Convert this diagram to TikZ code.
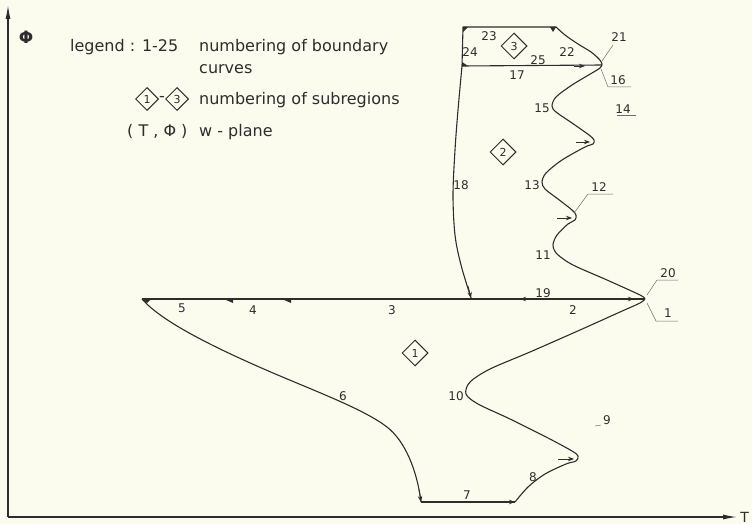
\documentclass[tikz,border=0pt]{standalone}
\usepackage{fontspec}
\setmainfont{DejaVu Sans}
\usetikzlibrary{arrows.meta,shapes.geometric}
\definecolor{paper}{RGB}{252,252,238}
\definecolor{ink}{RGB}{45,45,45}
\tikzset{
  bnd/.style={draw=ink, line width=1.1pt, line join=round},
  axisline/.style={draw=ink, line width=1.2pt, -{Latex[length=14pt,width=5pt]}},
  num/.style={font=\fontsize{12}{12}\selectfont, text=ink, inner sep=0pt},
  legtext/.style={font=\fontsize{16}{16}\selectfont, text=ink, inner sep=0pt, anchor=base west},
  lead/.style={draw=ink!70, line width=0.5pt},
  region/.style={diamond, draw=ink, line width=1pt, minimum size=26pt, inner sep=0pt, font=\fontsize{11}{11}\selectfont, text=ink},
  smallregion/.style={diamond, draw=ink, line width=1pt, minimum size=23pt, inner sep=0pt, font=\fontsize{11}{11}\selectfont, text=ink},
  tipar/.style={draw=ink, line width=0.8pt, -{Stealth[length=6pt,width=4.5pt]}},
  wedge/.style={fill=ink}
}
\begin{document}
\begin{tikzpicture}[x=1pt,y=-1pt]
\fill[paper] (0,0) rectangle (752,524);
\useasboundingbox (0,0) rectangle (752,524);

% axes
\coordinate (O) at (8,517);
\coordinate (Ytop) at (8,5);
\coordinate (Xend) at (737,517);
\draw[axisline] (O) -- (Ytop);
\draw[axisline] (O) -- (Xend);
\node[font=\fontsize{14}{14}\selectfont, text=ink, inner sep=0pt, anchor=east] (Tlab) at (749,517) {T};
\node[font=\bfseries\fontsize{17}{17}\selectfont, text=ink] (Plab) at (26,37) {Φ};

% legend
\node[legtext] (l1) at (70,52) {legend : 1-25};
\node[legtext] (l2) at (199,52) {numbering of boundary};
\node[legtext] (l3) at (199,74) {curves};
\node[smallregion] (ld1) at (147,99) {1};
\node[text=ink, font=\fontsize{16}{16}\selectfont] (ldash) at (162,99) {-};
\node[smallregion] (ld3) at (177,99) {3};
\node[legtext] (l4) at (199,105) {numbering of subregions};
\node[legtext] (l5) at (127,136) {( T , Φ )};
\node[legtext] (l6) at (199,136) {w - plane};

% key points
\coordinate (A) at (142,299);
\coordinate (B) at (421,502);
\coordinate (C) at (515,502);
\coordinate (P9) at (578,458);
\coordinate (P1) at (645,299);
\coordinate (P12) at (576,217);
\coordinate (P14) at (594,142);
\coordinate (P16) at (602,65);
\coordinate (D) at (556,27);
\coordinate (E) at (463,27);
\coordinate (F) at (462,66);
\coordinate (G) at (471,298);
\coordinate (M6a) at (273,373);
\coordinate (M6b) at (387,427);

% curve 6
\draw[bnd] (A) .. controls (162,322) and (215,348) .. (M6a)
               .. controls (320,393) and (365,410) .. (M6b)
               .. controls (405,441) and (417,470) .. (B);
% line 7
\draw[bnd] (B) -- (C);
% curves 8, 9, 10
\draw[bnd] plot[smooth, tension=0.5] coordinates {(515,502) (528,487) (545,474) (566,464) (576,461) (578,456) (572,451) (548,438) (510,419) (478,404) (466,394) (470,382) (490,369) (530,352) (580,330) (620,312) (640,303) (645,299)};
% curves 11 - 15, 22
\draw[bnd] plot[smooth, tension=0.5] coordinates {(645,299) (640,295) (607,280) (573,265) (557,254) (553,245) (557,235) (568,224) (575,220) (576,215) (572,210) (558,199) (545,189) (542,182) (546,173) (562,160) (585,147) (593,144) (594,140) (589,135) (572,123) (556,112) (552,106) (556,97) (572,85) (592,73) (600,68) (602,64) (599,59) (591,52) (578,44) (565,35) (556,27)};
% lines 23, 24
\draw[bnd] (D) -- (E) -- (F);
% curve 18
\draw[bnd] plot[smooth, tension=0.55] coordinates {(462,66) (458,110) (455,150) (453,195) (455,235) (461,265) (471,298)};
% lines 17/25 and 3/19/2
\draw[bnd] (F) -- (P16);
\draw[bnd] (A) -- (P1);

% arrow marks
\coordinate (a18s) at (468,286);
\draw[tipar] (a18s) -- (G);
\coordinate (a6s) at (419,490);
\draw[tipar] (a6s) -- (B);
\coordinate (a7s) at (505,502);
\draw[tipar] (a7s) -- (C);
\fill[wedge] (A) -- ++(9,0) -- ++(-4,4) -- cycle;
\fill[wedge] (224,299) -- ++(9,0) -- ++(0,4) -- cycle;
\fill[wedge] (282,299) -- ++(9,0) -- ++(0,4) -- cycle;
\coordinate (a19s) at (530,299);
\coordinate (a19e) at (520,299);
\draw[tipar] (a19s) -- (a19e);
\coordinate (a2s) at (622,299);
\coordinate (a2e) at (634,299);
\draw[tipar] (a2s) -- (a2e);
\coordinate (a9s) at (558,459);
\coordinate (a9e) at (574,459);
\draw[tipar] (a9s) -- (a9e);
\coordinate (a12s) at (557,218);
\coordinate (a12e) at (572,218);
\draw[tipar] (a12s) -- (a12e);
\coordinate (a14s) at (576,142);
\coordinate (a14e) at (590,142);
\draw[tipar] (a14s) -- (a14e);
\coordinate (a25s) at (574,66);
\coordinate (a25e) at (585,66);
\draw[tipar] (a25s) -- (a25e);
\fill[wedge] (E) -- ++(5,0) -- ++(-5,5) -- cycle;
\fill[wedge] (D) -- ++(-6,0) -- ++(3,5) -- cycle;
\fill[wedge] (F) -- ++(6,0) -- ++(-6,-4) -- cycle;

% leaders
\coordinate (c21a) at (602,61); \coordinate (c21b) at (613,45);
\draw[lead] (c21a) -- (c21b);
\coordinate (c16a) at (601,69); \coordinate (c16b) at (608,87); \coordinate (c16c) at (631,87);
\draw[lead] (c16a) -- (c16b) -- (c16c);
\coordinate (c14a) at (617,115); \coordinate (c14b) at (636,115);
\draw[lead] (c14a) -- (c14b);
\coordinate (c12a) at (574,213); \coordinate (c12b) at (588,194); \coordinate (c12c) at (613,194);
\draw[lead] (c12a) -- (c12b) -- (c12c);
\coordinate (c20a) at (647,295); \coordinate (c20b) at (657,280); \coordinate (c20c) at (678,280);
\draw[lead] (c20a) -- (c20b) -- (c20c);
\coordinate (c1a) at (647,303); \coordinate (c1b) at (656,321); \coordinate (c1c) at (678,321);
\draw[lead] (c1a) -- (c1b) -- (c1c);
\coordinate (c9a) at (595,426); \coordinate (c9b) at (601,425);
\draw[lead] (c9a) -- (c9b);

% curve numbers
\node[num] (n1) at (668,313) {1};
\node[num] (n2) at (573,310) {2};
\node[num] (n3) at (392,310) {3};
\node[num] (n4) at (253,310) {4};
\node[num] (n5) at (182,308) {5};
\node[num] (n6) at (343,396) {6};
\node[num] (n7) at (467,495) {7};
\node[num] (n8) at (533,477) {8};
\node[num] (n9) at (607,420) {9};
\node[num] (n10) at (456,396) {10};
\node[num] (n11) at (543,255) {11};
\node[num] (n12) at (599,187) {12};
\node[num] (n13) at (532,185) {13};
\node[num] (n14) at (623,109) {14};
\node[num] (n15) at (542,108) {15};
\node[num] (n16) at (618,80) {16};
\node[num] (n17) at (517,75) {17};
\node[num] (n18) at (461,185) {18};
\node[num] (n19) at (543,293) {19};
\node[num] (n20) at (668,273) {20};
\node[num] (n21) at (619,37) {21};
\node[num] (n22) at (567,52) {22};
\node[num] (n23) at (489,36) {23};
\node[num] (n24) at (470,52) {24};
\node[num] (n25) at (538,60) {25};

% subregions
\node[region] (r1) at (415,353) {1};
\node[region] (r2) at (503,152) {2};
\node[region] (r3) at (514,46) {3};
\end{tikzpicture}
\end{document}
